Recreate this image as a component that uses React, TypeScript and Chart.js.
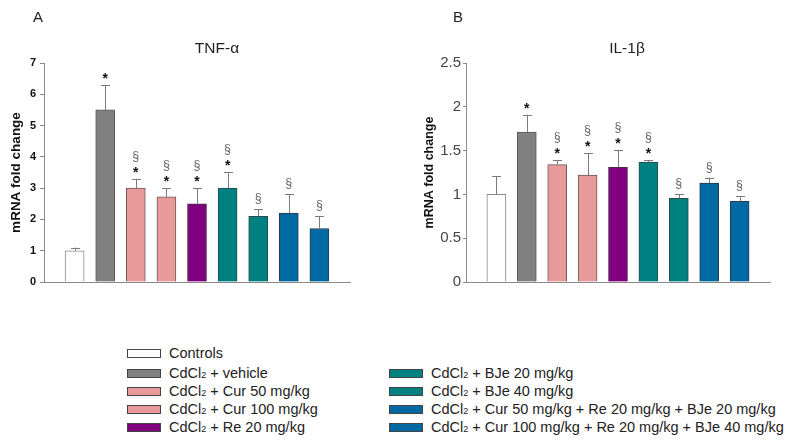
import React, { useEffect, useRef } from 'react';
import { Chart, registerables } from 'chart.js';

Chart.register(...registerables);

// ---------- data ----------
const groups = [
  'Controls',
  'CdCl2 + vehicle',
  'CdCl2 + Cur 50 mg/kg',
  'CdCl2 + Cur 100 mg/kg',
  'CdCl2 + Re 20 mg/kg',
  'CdCl2 + BJe 20 mg/kg',
  'CdCl2 + BJe 40 mg/kg',
  'CdCl2 + Cur 50 mg/kg + Re 20 mg/kg + BJe 20 mg/kg',
  'CdCl2 + Cur 100 mg/kg + Re 20 mg/kg + BJe 40 mg/kg',
];

const tnfValues = [1.0, 5.5, 3.0, 2.72, 2.5, 3.0, 2.1, 2.2, 1.71];
const tnfErrors = [0.1, 0.8, 0.3, 0.28, 0.5, 0.51, 0.23, 0.61, 0.39];
const tnfMarks = ['', '*', '§*', '§*', '§*', '§*', '§', '§', '§'];
const tnfTicks = [0, 1, 2, 3, 4, 5, 6, 7];

const il1bValues = [1.0, 1.71, 1.34, 1.22, 1.31, 1.37, 0.955, 1.13, 0.92];
const il1bErrors = [0.21, 0.2, 0.05, 0.25, 0.2, 0.02, 0.05, 0.06, 0.06];
const il1bMarks = ['', '*', '§*', '§*', '§*', '§*', '§', '§', '§'];
const il1bTicks = [0, 0.5, 1, 1.5, 2, 2.5];

const barColors = ['#ffffff', '#808080', '#e89a9b', '#e89a9b', '#800080', '#008080', '#008080', '#0068a2', '#0068a2'];
const barBorders = ['#8a8a8a', '#5a5a5a', '#6a5a5a', '#6a5a5a', '#4a2a4a', '#2a4a4a', '#2a4a4a', '#2a3a4a', '#2a3a4a'];

// ---------- plugins ----------
function makeOverlay(values: number[], errors: number[], marks: string[], letter: string, letterX: number, title: string, titleX: number) {
  return {
    id: 'overlay_' + letter,
    afterDatasetsDraw(chart: any) {
      const ctx = chart.ctx;
      const y = chart.scales.y;
      const meta = chart.getDatasetMeta(0);
      ctx.save();
      meta.data.forEach((bar: any, i: number) => {
        const x = bar.x;
        const top = y.getPixelForValue(values[i]);
        const cap = y.getPixelForValue(values[i] + errors[i]);
        ctx.strokeStyle = '#7a7a7a';
        ctx.lineWidth = 1;
        ctx.beginPath();
        ctx.moveTo(Math.round(x) + 0.5, top);
        ctx.lineTo(Math.round(x) + 0.5, cap);
        ctx.moveTo(Math.round(x) - 4, Math.round(cap) + 0.5);
        ctx.lineTo(Math.round(x) + 5, Math.round(cap) + 0.5);
        ctx.stroke();
        const m = marks[i];
        ctx.textAlign = 'center';
        ctx.textBaseline = 'alphabetic';
        if (m.includes('*')) {
          ctx.fillStyle = '#111';
          ctx.font = 'bold 14px "Liberation Sans", Arial, sans-serif';
          const c = cap - 10;
          ctx.fillText('*', x, c + 8);
        }
        if (m.includes('§')) {
          ctx.fillStyle = '#666';
          ctx.font = '12.5px "Liberation Sans", Arial, sans-serif';
          const c = m.includes('*') ? cap - 23 : cap - 11;
          ctx.fillText('§', x, c + 4);
        }
      });
      ctx.restore();
    },
    afterDraw(chart: any) {
      const ctx = chart.ctx;
      ctx.save();
      ctx.fillStyle = '#222';
      ctx.textBaseline = 'alphabetic';
      ctx.font = '15px "Liberation Sans", Arial, sans-serif';
      ctx.textAlign = 'left';
      ctx.fillText(letter, letterX, 22);
      ctx.textAlign = 'center';
      ctx.font = '15.5px "Liberation Sans", Arial, sans-serif';
      ctx.fillText(title, titleX, 53);
      ctx.restore();
    },
  };
}

function makeConfig(
  values: number[],
  errors: number[],
  marks: string[],
  ticks: number[],
  opts: { yWidth: number; padRight: number; tickFont: any; tickColor: string; tickLen: number; tickPad: number; titleFont: any; titlePad: number; letter: string; letterX: number; title: string; titleX: number }
): any {
  return {
    type: 'bar',
    data: {
      datasets: [
        {
          label: 'mRNA',
          data: values.map((v, i) => ({ x: i, y: v })),
          backgroundColor: barColors,
          borderColor: barBorders,
          borderWidth: 1,
          barThickness: 19,
        },
      ],
    },
    options: {
      animation: false,
      responsive: false,
      layout: { padding: { left: 0, top: 63, right: opts.padRight, bottom: 18 } },
      plugins: { legend: { display: false }, tooltip: { enabled: false }, title: { display: false } },
      scales: {
        x: {
          type: 'linear',
          min: -1,
          max: groups.length,
          offset: false,
          ticks: { display: false },
          grid: { display: false },
          border: { display: true, color: '#8a8a8a', width: 1 },
          afterFit: (s: any) => {
            s.height = 0;
          },
        },
        y: {
          min: ticks[0],
          max: ticks[ticks.length - 1],
          afterBuildTicks: (s: any) => {
            s.ticks = ticks.map((v) => ({ value: v }));
          },
          ticks: {
            font: opts.tickFont,
            color: opts.tickColor,
            padding: opts.tickPad,
            callback: (v: any) => String(v),
          },
          grid: { display: true, drawOnChartArea: false, drawTicks: true, tickLength: opts.tickLen, color: '#8a8a8a' },
          border: { display: true, color: '#8a8a8a', width: 1 },
          title: {
            display: true,
            text: 'mRNA fold change',
            color: '#111',
            font: opts.titleFont,
            padding: { top: opts.titlePad, bottom: 0 },
          },
          afterFit: (s: any) => {
            s.width = opts.yWidth;
          },
        },
      },
    },
    plugins: [makeOverlay(values, errors, marks, opts.letter, opts.letterX, opts.title, opts.titleX)],
  };
}

function Panel(props: { config: any; left: number }) {
  const ref = useRef<HTMLCanvasElement | null>(null);
  useEffect(() => {
    if (!ref.current) return;
    const chart = new Chart(ref.current, props.config);
    return () => chart.destroy();
  }, []);
  return <canvas ref={ref} width={396} height={300} style={{ position: 'absolute', left: props.left, top: 0, width: 396, height: 300 }} />;
}

function LegendLabel({ text }: { text: string }) {
  if (text.startsWith('CdCl2')) {
    return (
      <span>
        CdCl<span style={{ fontSize: '0.62em', position: 'relative', top: '0.05em' }}>2</span>
        {text.slice(5)}
      </span>
    );
  }
  return <span>{text}</span>;
}

const legendLeftRows = [353, 373, 391, 409, 427];
const legendRightRows = [373, 391, 409, 427];

export default function App() {
  const cfgA = makeConfig(tnfValues, tnfErrors, tnfMarks, tnfTicks, {
    yWidth: 44,
    padRight: 46,
    tickFont: { family: '"Liberation Sans", Arial, sans-serif', size: 11, weight: 'bold' },
    tickColor: '#111',
    tickLen: 4,
    tickPad: 4,
    titleFont: { family: '"Liberation Sans", Arial, sans-serif', size: 13.5, weight: 'bold' },
    titlePad: 8,
    letter: 'A',
    letterX: 33,
    title: 'TNF-α',
    titleX: 217,
  });
  const cfgB = makeConfig(il1bValues, il1bErrors, il1bMarks, il1bTicks, {
    yWidth: 70,
    padRight: 22,
    tickFont: { family: '"Liberation Sans", Arial, sans-serif', size: 15, weight: 'normal' },
    tickColor: '#444',
    tickLen: 3,
    tickPad: 2,
    titleFont: { family: '"Liberation Sans", Arial, sans-serif', size: 12.5, weight: 'bold' },
    titlePad: 26,
    letter: 'B',
    letterX: 57,
    title: 'IL-1β',
    titleX: 231,
  });

  const swatch = (i: number, left: number, cy: number) => (
    <div
      key={'s' + i}
      style={{
        position: 'absolute',
        left,
        top: cy - 4,
        width: 32,
        height: 7,
        background: barColors[i],
        border: '1px solid #444',
      }}
    />
  );
  const label = (i: number, left: number, cy: number) => (
    <div
      key={'t' + i}
      style={{
        position: 'absolute',
        left,
        top: cy - 9,
        height: 18,
        lineHeight: '18px',
        fontSize: 14.5,
        fontFamily: '"Liberation Sans", Arial, sans-serif',
        color: '#222',
        whiteSpace: 'nowrap',
      }}
    >
      <LegendLabel text={groups[i]} />
    </div>
  );

  return (
    <div style={{ position: 'fixed', left: 0, top: 0, width: 792, height: 442, background: '#fff', overflow: 'hidden' }}>
      <Panel config={cfgA} left={0} />
      <Panel config={cfgB} left={396} />
      {legendLeftRows.map((cy, k) => [swatch(k, 127, cy), label(k, 169, cy)])}
      {legendRightRows.map((cy, k) => [swatch(k + 5, 389, cy), label(k + 5, 431, cy)])}
    </div>
  );
}
